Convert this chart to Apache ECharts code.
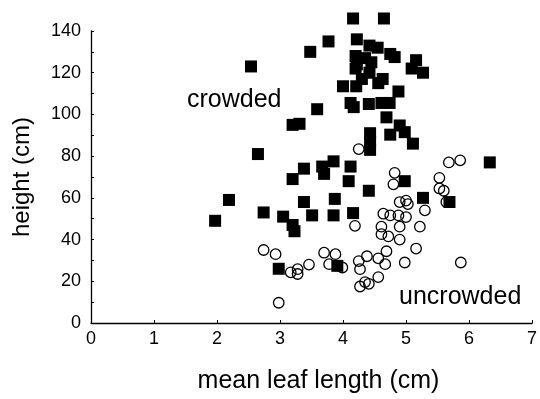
<!DOCTYPE html>
<html>
<head>
<meta charset="utf-8">
<script src="https://cdn.jsdelivr.net/npm/echarts@6/dist/echarts.min.js"></script>
<style>
  html, body { margin: 0; padding: 0; background: #fff; }
  #chart { width: 540px; height: 399px; }
</style>
</head>
<body>
<div id="chart"></div>
<script>
// crowded plants (filled squares)
var crowdedLength = [1.97, 2.19, 2.54, 2.65, 2.74, 2.98, 3.05, 3.2, 3.23, 3.2, 3.38, 3.38, 3.2, 3.31, 3.48, 3.77, 4.16, 4.65,
  4.22, 4.42, 4.55, 4.2, 4.35, 4.22, 4.45, 4.2, 4.42, 4.3,
  4.75, 4.82, 5.16, 5.09, 5.27, 4.0, 4.21, 4.63, 4.56, 4.88, 4.12, 4.17, 4.41, 4.61, 4.74, 3.59, 4.69,
  4.9, 4.98, 4.75, 5.11, 4.43, 4.43, 4.43, 6.33, 3.85, 3.67, 3.7, 4.12, 4.09, 4.98, 4.41, 3.87, 3.51,
  3.85, 4.16, 5.27, 5.69, 3.91];
var crowdedHeight = [49, 59, 123, 81, 53, 26, 51, 47, 44, 69, 58, 74, 95, 95.5, 130, 135, 146, 146,
  136, 133, 132, 128, 127, 124, 125, 122, 120, 117,
  129, 127.5, 126, 122, 120, 113.5, 113.5, 117, 115, 111, 105.5, 103.5, 105, 105.5, 105.5, 102.5, 98.6,
  94.7, 91.5, 90.3, 86, 91, 87, 83, 77, 77.5, 75, 71.5, 75, 68, 68, 63.4, 59.5, 51.6,
  51.6, 52.7, 60, 58, 27.4];

// uncrowded plants (open circles)
var uncrowdedLength = [2.74, 2.93, 3.17, 3.28, 3.28, 2.98, 3.46, 3.7, 3.88, 3.78, 3.99, 4.25, 4.38, 4.27, 4.56, 4.69,
  4.67, 4.56, 4.35, 4.27, 4.41, 4.98, 5.16, 5.87, 4.61, 4.61, 4.72, 4.9, 4.9, 5.22, 4.64, 4.75, 4.88,
  5.0, 4.9, 5.0, 5.03, 5.3, 4.82, 4.8, 5.53, 5.53, 5.6, 5.64, 5.68, 5.86, 4.25, 4.19];
var uncrowdedHeight = [35, 33, 24.3, 25.8, 23.5, 9.7, 28, 33.7, 33, 28.2, 26.6, 29.7, 32, 25.8, 31, 34.4,
  28.2, 22, 19.6, 17.5, 18.8, 29, 35.7, 29, 46.2, 42.6, 41.5, 46.2, 40, 46.2, 52.4, 51.6, 51.6,
  50.8, 58, 58.7, 57, 54, 72, 66.5, 69.6, 64.5, 63.4, 58, 77, 78, 83.4, 46.6];

var xTicks = [0, 1, 2, 3, 4, 5, 6, 7];
var yTicks = [0, 20, 40, 60, 80, 100, 120, 140];

function pairs(xs, ys) {
  return xs.map(function (x, i) { return [x, ys[i]]; });
}

var font = 'Liberation Sans, Arial, Helvetica, sans-serif';
var chart = echarts.init(document.getElementById('chart'));

chart.setOption({
  animation: false,
  backgroundColor: '#fff',
  textStyle: { fontFamily: font },
  grid: { left: 91, right: 4, top: 31, bottom: 69 },
  xAxis: {
    type: 'value',
    min: xTicks[0],
    max: xTicks[xTicks.length - 1],
    interval: 1,
    name: 'mean leaf length (cm)',
    nameLocation: 'middle',
    nameGap: 46,
    nameTextStyle: { fontSize: 25, color: '#000', fontFamily: font, padding: [0, 0, 0, 14] },
    axisLine: { lineStyle: { color: '#000', width: 1.3 } },
    axisTick: { inside: true, length: 3, lineStyle: { color: '#000' } },
    axisLabel: { fontSize: 18, color: '#000', margin: 7, fontFamily: font },
    splitLine: { show: false }
  },
  yAxis: {
    type: 'value',
    min: yTicks[0],
    max: yTicks[yTicks.length - 1],
    interval: 10,
    name: 'height (cm)',
    nameLocation: 'middle',
    nameGap: 57,
    nameTextStyle: { fontSize: 24, color: '#000', fontFamily: font },
    axisLine: { lineStyle: { color: '#000', width: 1.3 } },
    axisTick: { inside: true, length: 3, lineStyle: { color: '#000' } },
    axisLabel: {
      fontSize: 18, color: '#000', margin: 10, fontFamily: font, padding: [7, 0, 0, 0],
      formatter: function (v) { return yTicks.indexOf(v) >= 0 ? String(v) : ''; }
    },
    splitLine: { show: false }
  },
  graphic: [
    { type: 'text', left: 187, top: 88, style: { text: 'crowded', fontSize: 25, fontFamily: font, fill: '#000' } },
    { type: 'text', left: 399, top: 285, style: { text: 'uncrowded', fontSize: 25, fontFamily: font, fill: '#000' } }
  ],
  series: [
    {
      name: 'uncrowded',
      type: 'scatter',
      clip: false,
      symbol: 'circle',
      symbolSize: 10.5,
      itemStyle: { color: 'rgba(0,0,0,0)', borderColor: '#000', borderWidth: 1.3, opacity: 1 },
      data: pairs(uncrowdedLength, uncrowdedHeight),
      z: 2
    },
    {
      name: 'crowded',
      type: 'scatter',
      clip: false,
      symbol: 'rect',
      symbolSize: 12,
      itemStyle: { color: '#000', opacity: 1 },
      data: pairs(crowdedLength, crowdedHeight),
      z: 3
    }
  ]
});
</script>
</body>
</html>
